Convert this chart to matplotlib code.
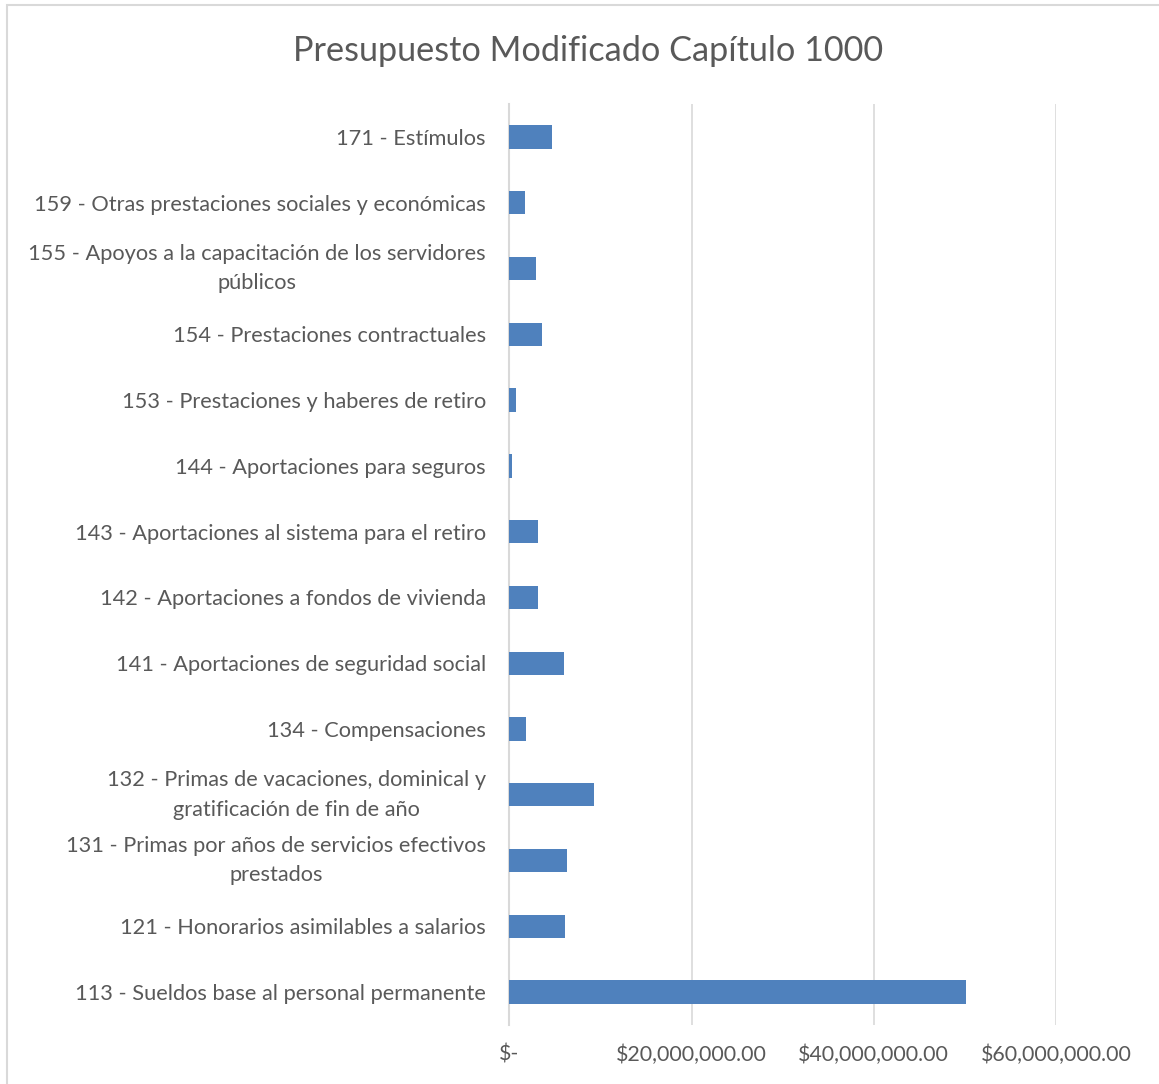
#!/usr/bin/env python3

import matplotlib
matplotlib.use('Agg')
import matplotlib.pyplot as plt
from matplotlib.patches import Rectangle
from matplotlib.ticker import FuncFormatter

# Datos (de arriba hacia abajo, como en la gráfica)
partidas = [
    '171 - Estímulos',
    '159 - Otras prestaciones sociales y económicas',
    '155 - Apoyos a la capacitación de los servidores\npúblicos',
    '154 - Prestaciones contractuales',
    '153 - Prestaciones y haberes de retiro',
    '144 - Aportaciones para seguros',
    '143 - Aportaciones al sistema para el retiro',
    '142 - Aportaciones a fondos de vivienda',
    '141 - Aportaciones de seguridad social',
    '134 - Compensaciones',
    '132 - Primas de vacaciones, dominical y\ngratificación de fin de año',
    '131 - Primas por años de servicios efectivos\nprestados',
    '121 - Honorarios asimilables a salarios',
    '113 - Sueldos base al personal permanente',
]
montos = [4.63e6, 1.74e6, 2.88e6, 3.53e6, 0.75e6, 0.24e6, 3.16e6,
          3.09e6, 6.02e6, 1.78e6, 9.31e6, 6.31e6, 6.06e6, 50.14e6]
ticks_x = [0, 20e6, 40e6, 60e6]

gris_texto = '#595959'
plt.rcParams['font.family'] = ['Lato', 'DejaVu Sans']

fig = plt.figure(figsize=(11.59, 10.84), dpi=100)
ax = fig.add_axes([0.4396, 0.0544, 0.4715, 0.8496])

y = list(range(len(partidas)))[::-1]
ax.barh(y, montos, height=0.355, color='#4f81bd', zorder=3)

ax.set_xlim(0, 60e6)
ax.set_ylim(-0.5, len(partidas) - 0.5)
ax.set_xticks(ticks_x)


def fmt_moneda(v, pos):
    if v == 0:
        return '$-'
    return f'${v:,.2f}'


ax.xaxis.set_major_formatter(FuncFormatter(fmt_moneda))
ax.set_yticks(y)
etiquetas = ax.set_yticklabels(partidas, multialignment='center', linespacing=1.6)
for et in etiquetas:
    if '\n' in et.get_text():
        et.set_va('center')

ax.grid(axis='x', color='#d9d9d9', linewidth=1.2, zorder=0)
for lado in ['top', 'right', 'bottom']:
    ax.spines[lado].set_visible(False)
ax.spines['left'].set_color('#d9d9d9')
ax.spines['left'].set_linewidth(1.5)
ax.tick_params(axis='both', length=0, colors=gris_texto)
ax.tick_params(axis='y', pad=17, labelsize=15.7)
ax.tick_params(axis='x', pad=14, labelsize=15.4)

fig.text(0.507, 0.953, 'Presupuesto Modificado Capítulo 1000', ha='center',
         va='center', fontsize=24.7, color=gris_texto)

# borde del área del gráfico
fig.patches.append(Rectangle((7 / 1159, -0.05), 1.1, 1 - 5 / 1084 + 0.05,
                             transform=fig.transFigure, fill=False,
                             edgecolor='#d9d9d9', linewidth=1.5))

fig.savefig('out.png', dpi=100)
